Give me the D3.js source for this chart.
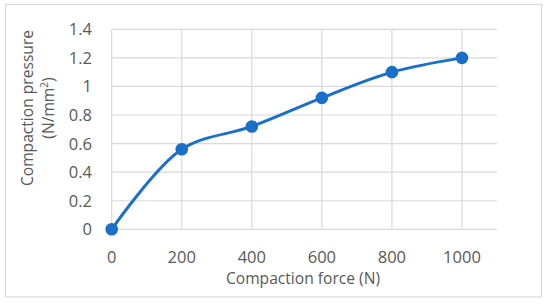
<!DOCTYPE html>
<html>
<head>
<meta charset="utf-8">
<script src="https://cdn.jsdelivr.net/npm/d3@7"></script>
<style>
  body { margin: 0; background: #fff; }
  svg text { font-family: "Open Sans", sans-serif; fill: #595959; }
</style>
</head>
<body>
<svg id="chart" width="550" height="305"></svg>
<script>
// data
const forces = [0, 200, 400, 600, 800, 1000];
const pressures = [0, 0.56, 0.72, 0.92, 1.10, 1.20];
const xTicks = [0, 200, 400, 600, 800, 1000];
const yTicks = [0, 0.2, 0.4, 0.6, 0.8, 1, 1.2, 1.4];

const svg = d3.select('#chart');
const plotL = 111.7, plotR = 497, plotT = 29.3, plotB = 229.3;

// outer frame
svg.append('rect')
  .attr('x', 5.5).attr('y', 4.5)
  .attr('width', 536).attr('height', 292.5)
  .attr('fill', '#fff')
  .attr('stroke', '#d9d9d9').attr('stroke-width', 1.2);

const x = d3.scaleLinear().domain([0, 1100]).range([plotL, plotR]);
const y = d3.scaleLinear().domain([0, 1.4]).range([plotB, plotT]);

// horizontal grid
svg.append('g')
  .selectAll('line')
  .data(yTicks)
  .join('line')
  .attr('x1', plotL).attr('x2', plotR)
  .attr('y1', d => y(d)).attr('y2', d => y(d))
  .attr('stroke', '#d9d9d9').attr('stroke-width', 1.2);

// vertical grid
svg.append('g')
  .selectAll('line')
  .data(xTicks)
  .join('line')
  .attr('x1', d => x(d)).attr('x2', d => x(d))
  .attr('y1', plotT).attr('y2', plotB)
  .attr('stroke', '#d9d9d9').attr('stroke-width', 1.2);

// tick labels
svg.append('g')
  .selectAll('text')
  .data(yTicks)
  .join('text')
  .attr('x', 92).attr('y', d => y(d))
  .attr('dy', '0.36em')
  .attr('text-anchor', 'end')
  .style('font-size', '16.5px')
  .text(d => d);

svg.append('g')
  .selectAll('text')
  .data(xTicks)
  .join('text')
  .attr('x', d => x(d)).attr('y', 262.5)
  .attr('text-anchor', 'middle')
  .style('font-size', '16.5px')
  .text(d => d);

// axis titles
svg.append('text')
  .attr('x', 303).attr('y', 283.5)
  .attr('text-anchor', 'middle')
  .style('font-size', '15.6px')
  .text('Compaction force (N)');

const yt = svg.append('text')
  .attr('transform', 'translate(0,108) rotate(-90)')
  .attr('text-anchor', 'middle')
  .style('font-size', '15.6px');
yt.append('tspan').attr('x', 0).attr('y', 33).text('Compaction pressure');
const t2 = yt.append('tspan').attr('x', 0).attr('y', 53.5);
t2.append('tspan').text('(N/mm');
t2.append('tspan').attr('dy', -6).style('font-size', '10px').text('2');
t2.append('tspan').attr('dy', 6).text(')');

// smoothed line + markers
const pts = forces.map((f, i) => [f, pressures[i]]);
const line = d3.line()
  .x(d => x(d[0])).y(d => y(d[1]))
  .curve(d3.curveCatmullRom.alpha(0.5));

svg.append('path')
  .datum(pts)
  .attr('d', line)
  .attr('fill', 'none')
  .attr('stroke', '#1a6fc9')
  .attr('stroke-width', 3)
  .attr('stroke-linecap', 'round');

svg.append('g')
  .selectAll('circle')
  .data(pts)
  .join('circle')
  .attr('cx', d => x(d[0])).attr('cy', d => y(d[1]))
  .attr('r', 6.3)
  .attr('fill', '#1a6fc9');
</script>
</body>
</html>
